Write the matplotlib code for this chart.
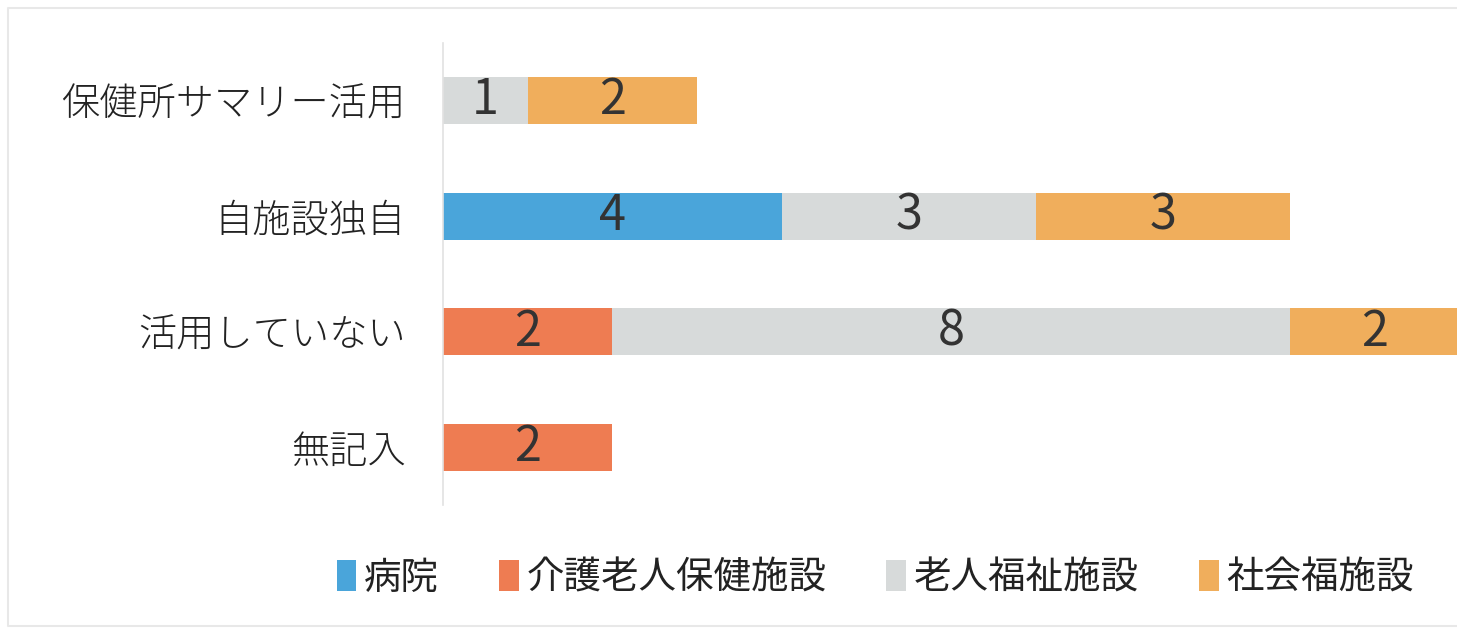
import matplotlib.pyplot as plt
import numpy as np
from matplotlib.lines import Line2D

plt.rcParams["font.family"] = ["Noto Sans CJK JP", "DejaVu Sans"]

categories = ["保健所サマリー活用", "自施設独自", "活用していない", "無記入"]
series_names = ["病院", "介護老人保健施設", "老人福祉施設", "社会福施設"]
hospital = [0, 4, 0, 0]
geriatric_health = [0, 0, 2, 2]
elderly_welfare = [1, 3, 8, 0]
social_welfare = [2, 3, 2, 0]
colors = ["#4aa5da", "#ee7c52", "#d7dada", "#f0ae5c"]

fig = plt.figure(figsize=(14.57, 6.36), dpi=100)
ax = fig.add_axes([443 / 1457, 1 - 505 / 636, 1016 / 1457, 462 / 636])

y = np.arange(len(categories))
left = np.zeros(len(categories))
for name, values, color in zip(
    series_names,
    [hospital, geriatric_health, elderly_welfare, social_welfare],
    colors,
):
    values = np.array(values, dtype=float)
    bars = ax.barh(y, values, left=left, height=0.41, color=color, label=name)
    for bar, v in zip(bars, values):
        if v > 0:
            ax.text(
                bar.get_x() + bar.get_width() / 2,
                bar.get_y() + bar.get_height() / 2,
                f"{int(v)}",
                ha="center",
                va="center",
                fontsize=35,
                color="#333333",
            )
    left += values

ax.set_xlim(0, 12)
ax.set_ylim(3.5, -0.5)
ax.set_yticks(y)
ax.set_yticklabels(categories, fontsize=27.5, color="#222222", fontweight="light")
ax.tick_params(axis="y", length=0, pad=27)
ax.set_xticks([])
for side in ["top", "right", "bottom"]:
    ax.spines[side].set_visible(False)
ax.spines["left"].set_color("#e2e2e2")
ax.spines["left"].set_linewidth(1.2)

leg = fig.legend(
    loc="center",
    bbox_to_anchor=(875 / 1457, 1 - 578 / 636),
    ncol=4,
    frameon=False,
    fontsize=27,
    handlelength=0.53,
    handleheight=0.87,
    handletextpad=0.2,
    columnspacing=1.6,
)
for text in leg.get_texts():
    text.set_color("#222222")

# faint outer frame (top, left, bottom)
frame_x = [1, 8 / 1457, 8 / 1457, 1]
frame_y = [1 - 8 / 636, 1 - 8 / 636, 10 / 636, 10 / 636]
fig.add_artist(
    Line2D(frame_x, frame_y, transform=fig.transFigure,
           color="#e8e8e8", linewidth=1.5)
)

fig.savefig("out.png", dpi=100)
